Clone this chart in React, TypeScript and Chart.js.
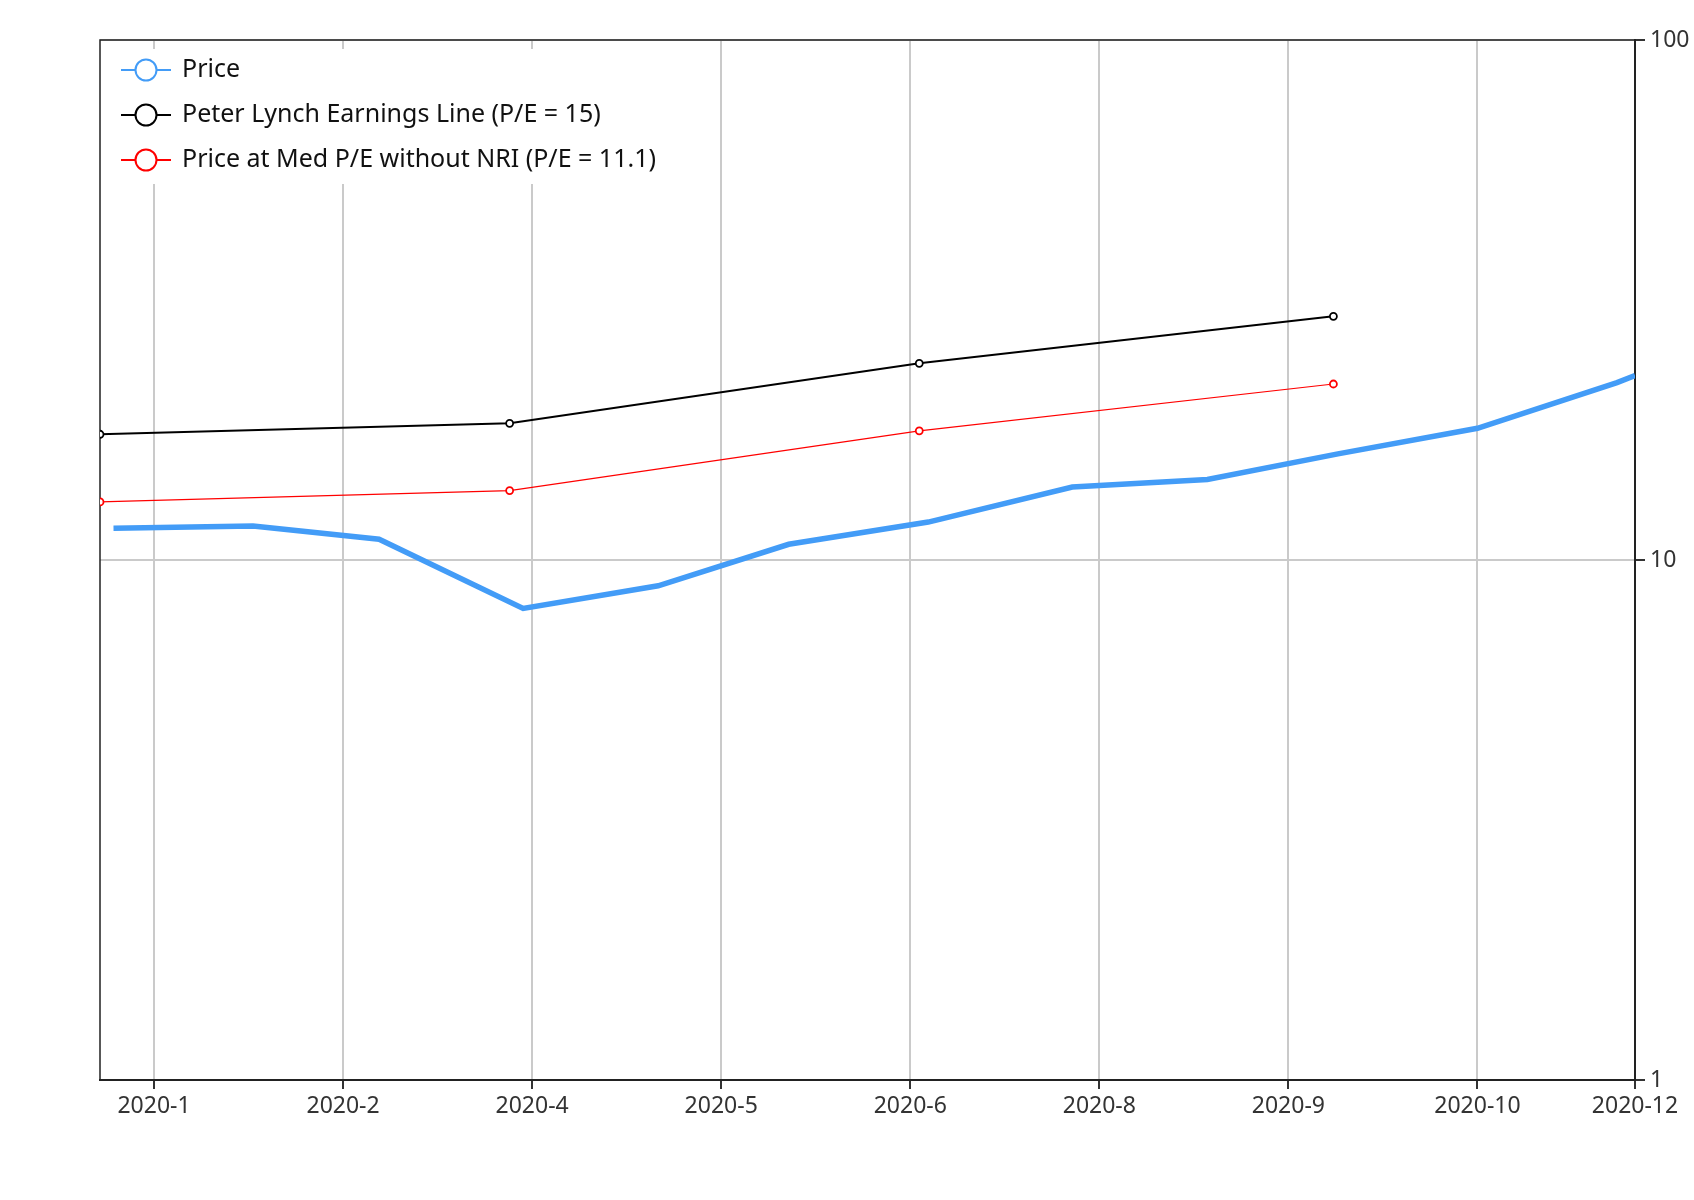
import { useEffect, useRef } from "react";
import { Chart, registerables } from "chart.js";

Chart.register(...registerables);

// price: roughly first trading day of each month
const priceDates = [
  "2020-01-03", "2020-02-03", "2020-03-02", "2020-04-03", "2020-05-03", "2020-06-01",
  "2020-07-02", "2020-08-03", "2020-09-02", "2020-10-01", "2020-11-01", "2020-12-02", "2020-12-06",
];
const priceValues = [11.51, 11.62, 10.96, 8.07, 8.92, 10.72, 11.83, 13.81, 14.28, 16.0, 17.92, 21.94, 22.63];

// quarterly earnings lines
const quarterDates = ["2019-12-31", "2020-03-31", "2020-06-30", "2020-09-30"];
const lynchValues = [17.45, 18.32, 23.89, 29.42];
const medPeValues = [12.93, 13.6, 17.72, 21.8];

const xMinDate = "2019-12-31";
const xMaxDate = "2020-12-06";
const xTickDates = [
  "2020-01-12", "2020-02-23", "2020-04-05", "2020-05-17", "2020-06-28",
  "2020-08-09", "2020-09-20", "2020-11-01", "2020-12-06",
];
const xTickLabels = ["2020-1", "2020-2", "2020-4", "2020-5", "2020-6", "2020-8", "2020-9", "2020-10", "2020-12"];
const yTicks = [1, 10, 100];

const seriesLabels = [
  "Price",
  "Peter Lynch Earnings Line (P/E = 15)",
  "Price at Med P/E without NRI (P/E = 11.1)",
];

const FONT = "'Noto Sans', 'Open Sans', sans-serif";

const base = Date.parse(xMinDate);
const dayOf = (d: string) => (Date.parse(d) - base) / 86400000;
const toPoints = (dates: string[], vals: number[]) => dates.map((d, i) => ({ x: dayOf(d), y: vals[i] }));

// legend drawn inside the plot, line + hollow circle like the original
const insideLegend = {
  id: "insideLegend",
  afterDraw(chart: any) {
    const ctx = chart.ctx;
    ctx.save();
    ctx.fillStyle = "#fff";
    ctx.fillRect(101, 49, 580, 135);
    chart.data.datasets.forEach((ds: any, i: number) => {
      const y = 70 + i * 45;
      ctx.strokeStyle = ds.borderColor;
      ctx.lineWidth = 2;
      ctx.beginPath();
      ctx.moveTo(121, y);
      ctx.lineTo(171, y);
      ctx.stroke();
      ctx.beginPath();
      ctx.arc(146, y, 10.5, 0, Math.PI * 2);
      ctx.fillStyle = "#fff";
      ctx.fill();
      ctx.stroke();
      ctx.fillStyle = "#111";
      ctx.font = `25px ${FONT}`;
      ctx.textBaseline = "middle";
      ctx.fillText(ds.label, 182, y);
    });
    ctx.restore();
  },
};

// left and top frame lines of the plot area
const frame = {
  id: "frame",
  beforeDatasetsDraw(chart: any) {
    const { ctx, chartArea: a } = chart;
    ctx.save();
    ctx.strokeStyle = "#222";
    ctx.lineWidth = 1.5;
    ctx.beginPath();
    ctx.moveTo(a.left, a.bottom);
    ctx.lineTo(a.left, a.top);
    ctx.lineTo(a.right, a.top);
    ctx.stroke();
    ctx.restore();
  },
};

export default function App() {
  const canvasRef = useRef<HTMLCanvasElement | null>(null);

  useEffect(() => {
    if (!canvasRef.current) return;
    const chart = new Chart(canvasRef.current, {
      type: "line",
      data: {
        datasets: [
          {
            label: seriesLabels[0],
            data: toPoints(priceDates, priceValues),
            borderColor: "#439cf7",
            borderWidth: 5.5,
            pointRadius: 0,
            tension: 0,
          },
          {
            label: seriesLabels[1],
            data: toPoints(quarterDates, lynchValues),
            borderColor: "#000",
            borderWidth: 2,
            pointRadius: 3.5,
            pointBorderWidth: 1.8,
            pointBackgroundColor: "#fff",
            pointBorderColor: "#000",
            tension: 0,
          },
          {
            label: seriesLabels[2],
            data: toPoints(quarterDates, medPeValues),
            borderColor: "#ff0000",
            borderWidth: 1.2,
            pointRadius: 3.5,
            pointBorderWidth: 1.8,
            pointBackgroundColor: "#fff",
            pointBorderColor: "#ff0000",
            tension: 0,
          },
        ],
      },
      options: {
        responsive: false,
        animation: false,
        devicePixelRatio: 1,
        layout: { padding: { left: 100, top: 40, right: 0, bottom: 0 } },
        plugins: { legend: { display: false }, tooltip: { enabled: false } },
        scales: {
          x: {
            type: "linear",
            min: dayOf(xMinDate),
            max: dayOf(xMaxDate),
            afterBuildTicks: (s: any) => {
              s.ticks = xTickDates.map((d) => ({ value: dayOf(d) }));
            },
            afterFit: (s: any) => {
              s.height = 120;
            },
            ticks: {
              autoSkip: false,
              maxRotation: 0,
              padding: 4,
              color: "#333",
              font: { family: FONT, size: 23 },
              callback: (_v: any, i: number) => xTickLabels[i],
            },
            grid: { color: "#cacaca", lineWidth: 2, tickLength: 9, tickColor: "#333", tickWidth: 2 },
            border: { display: true, color: "#222", width: 2 },
          },
          y: {
            type: "logarithmic",
            position: "right",
            min: 1,
            max: 100,
            afterBuildTicks: (s: any) => {
              s.ticks = yTicks.map((v) => ({ value: v }));
            },
            afterFit: (s: any) => {
              s.width = 59;
            },
            ticks: {
              padding: 5,
              color: "#333",
              font: { family: FONT, size: 23 },
              callback: (v: any) => String(v),
            },
            grid: { color: "#cacaca", lineWidth: 2, tickLength: 10, tickColor: "#333", tickWidth: 2 },
            border: { display: true, color: "#222", width: 2 },
          },
        },
      } as any,
      plugins: [frame, insideLegend],
    });
    return () => chart.destroy();
  }, []);

  return (
    <div style={{ position: "absolute", left: 0, top: 0, width: 1694, height: 1200, background: "#fff" }}>
      <canvas ref={canvasRef} width={1694} height={1200}></canvas>
    </div>
  );
}
